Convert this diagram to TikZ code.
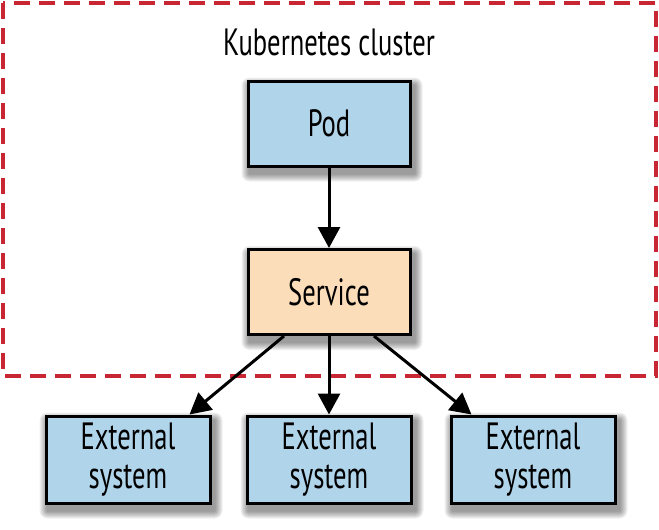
\documentclass[tikz,border=0pt]{standalone}
\usepackage{fontspec}
\setmainfont[FakeStretch=0.7]{PT Sans}
\usetikzlibrary{arrows.meta,calc,backgrounds}
\definecolor{boxblue}{RGB}{176,212,234}
\definecolor{boxpeach}{RGB}{252,221,186}
\definecolor{clusterred}{RGB}{200,38,50}
\newcommand{\myboxshadow}[1]{%
  \begin{pgfonlayer}{background}
  \foreach \r in {1,...,8} {
    \fill[black, opacity=0.06, rounded corners=\r pt]
      ($(#1.north west)+(3-\r,6-\r)$) rectangle ($(#1.south east)+(3+\r,6+\r)$);
  }
  \end{pgfonlayer}}
\begin{document}
\begin{tikzpicture}[x=1pt,y=-1pt,
  box/.style={draw=black, line width=3pt, minimum width=162pt, minimum height=85pt,
    inner sep=0pt, align=center, font=\fontsize{38}{39}\selectfont},
  bluebox/.style={box, fill=boxblue},
  peachbox/.style={box, fill=boxpeach},
  arr/.style={line width=3pt, -{Triangle[length=21pt,width=22pt]}},
  cluster/.style={draw=clusterred, line width=4pt, dash pattern=on 16pt off 9pt}]
\useasboundingbox (0,0) rectangle (659,530);
\draw[cluster] (3,3) rectangle (656,376);
\node[font=\fontsize{38}{40}\selectfont] (title) at (329,42) {Kubernetes cluster};
\node[bluebox] (pod) at (329,123.5) {Pod};
\node[peachbox] (svc) at (329,292) {Service};
\node[bluebox, minimum width=164pt, minimum height=87pt] (ext1) at (128,459.5) {External\\system};
\node[bluebox, minimum width=164pt, minimum height=87pt] (ext2) at (329,459.5) {External\\system};
\node[bluebox, minimum width=164pt, minimum height=87pt] (ext3) at (533,459.5) {External\\system};
\myboxshadow{pod}
\myboxshadow{svc}
\myboxshadow{ext1}
\myboxshadow{ext2}
\myboxshadow{ext3}
\draw[arr] (pod.south) -- (svc.north);
\draw[arr] ($(svc.south)+(-45,0)$) -- ($(ext1.north east)+(-22,0)$);
\draw[arr] (svc.south) -- (ext2.north);
\draw[arr] ($(svc.south)+(45,0)$) -- ($(ext3.north west)+(22,0)$);
\end{tikzpicture}
\end{document}
